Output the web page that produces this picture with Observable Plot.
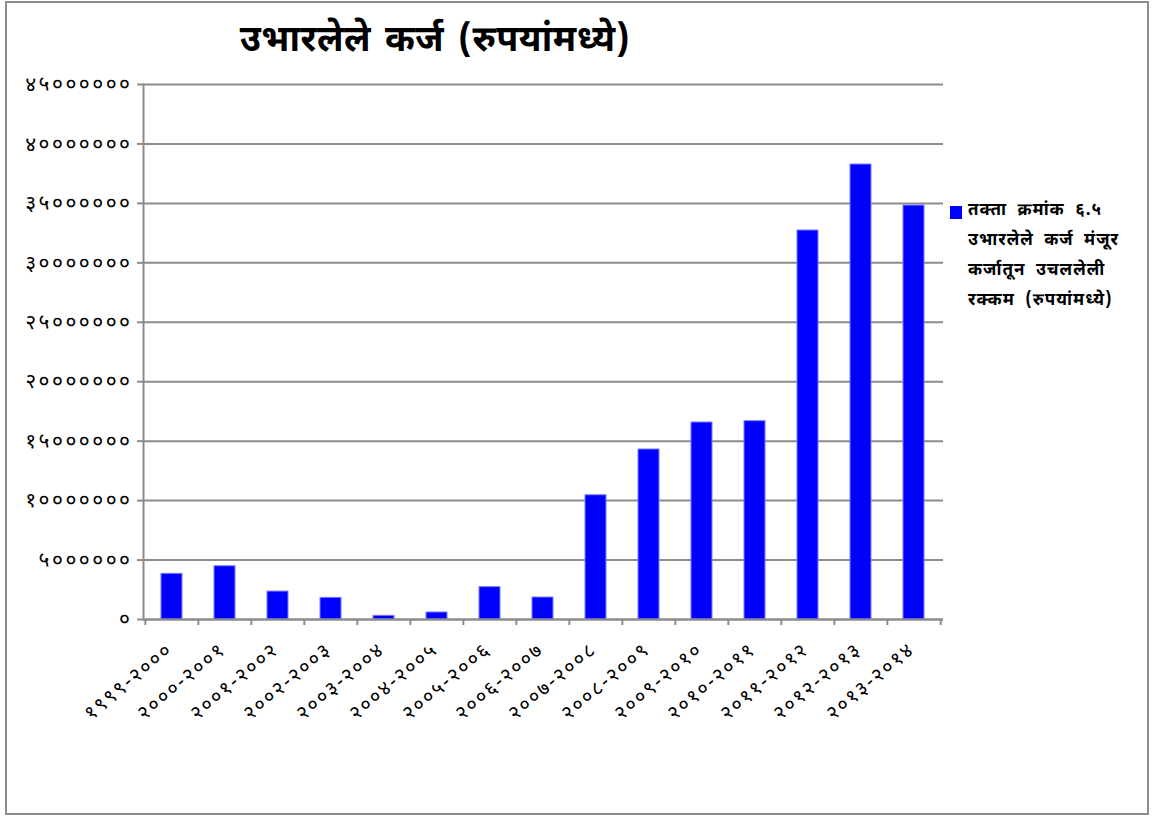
<!DOCTYPE html>
<html><head><meta charset="utf-8">
<script src="https://cdn.jsdelivr.net/npm/d3@7"></script>
<script src="https://cdn.jsdelivr.net/npm/@observablehq/plot@0.6"></script>
<style>
body{margin:0;background:#fff}
#wrap{position:relative;width:1157px;height:816px;font-family:"Noto Sans Devanagari","Lohit Devanagari","Noto Sans",sans-serif;overflow:hidden}
#border{position:absolute;left:5px;top:1px;width:1144px;height:814px;border:2px solid #8c8c8c;box-sizing:border-box;pointer-events:none}
#chart{position:absolute;left:0;top:0}
#title{position:absolute;left:0;width:870px;top:19px;text-align:center;font-size:36px;font-weight:bold;color:#000;word-spacing:4px;letter-spacing:0.5px}
#legend{position:absolute;left:950px;top:196px;font-size:17px;font-weight:bold;line-height:30px;color:#000;word-spacing:5px;letter-spacing:1px}
#legend .sw{position:absolute;left:0;top:10px;width:12px;height:13px;background:#0000ff}
#legend .txt{margin-left:18px;white-space:nowrap}
svg g.ylbl text{letter-spacing:2.5px}
svg g.xlbl text{letter-spacing:2px}
</style></head>
<body>
<div id="wrap">
  <div id="chart"></div>
  <div id="title"></div>
  <div id="legend"><div class="sw"></div><div class="txt"></div></div>
  <div id="border"></div>
</div>
<script>
const titleText = "उभारलेले कर्ज (रुपयांमध्ये)";
const legendLines = ["तक्ता क्रमांक ६.५", "उभारलेले कर्ज मंजूर", "कर्जातून उचललेली", "रक्कम (रुपयांमध्ये)"];
const categories = ["१९९९-२०००","२०००-२००१","२००१-२००२","२००२-२००३","२००३-२००४","२००४-२००५","२००५-२००६","२००६-२००७","२००७-२००८","२००८-२००९","२००९-२०१०","२०१०-२०११","२०११-२०१२","२०१२-२०१३","२०१३-२०१४"];
const values = [3840000, 4480000, 2350000, 1820000, 310000, 590000, 2720000, 1850000, 10450000, 14300000, 16570000, 16680000, 32720000, 38270000, 34820000];
const yTicks = [0, 5000000, 10000000, 15000000, 20000000, 25000000, 30000000, 35000000, 40000000, 45000000];

const devDigits = "०१२३४५६७८९";
const toDev = v => String(v).replace(/\d/g, d => devDigits[d]);

document.getElementById("title").textContent = titleText;
document.querySelector("#legend .txt").innerHTML = legendLines.map(l => `<div>${l}</div>`).join("");

const data = categories.map((c, i) => ({cat: c, value: values[i]}));
const W = 1157, H = 816, mL = 143, mR = 214, mT = 84, mB = 197;
const bw = (W - mL - mR) / categories.length;
const font = '"Noto Sans Devanagari","Lohit Devanagari","Noto Sans",sans-serif';

const plot = Plot.plot({
  width: W, height: H,
  marginLeft: mL, marginRight: mR, marginTop: mT, marginBottom: mB,
  style: {fontFamily: font, background: "transparent", color: "#000"},
  x: {domain: categories, paddingInner: 0.6, paddingOuter: 0.3, axis: null},
  y: {domain: [0, 45000000], axis: null},
  marks: [
    Plot.gridY(yTicks, {stroke: "#8c8c8c", strokeOpacity: 1, strokeWidth: 2}),
    Plot.axisY(yTicks, {label: null, tickSize: 6, tickPadding: 5, tickFormat: toDev, fontSize: 21, stroke: "#8c8c8c", strokeWidth: 2, fill: "#000", className: "ylbl"}),
    Plot.barY(data, {x: "cat", y: "value", fill: "#0000ff", stroke: "#7a7aff", strokeWidth: 1}),
    Plot.ruleY([0], {stroke: "#8c8c8c", strokeWidth: 2}),
    Plot.frame({anchor: "left", stroke: "#8c8c8c", strokeWidth: 2}),
    Plot.ruleX(categories, {x: d => d, y1: 0, y2: 0, dx: -bw / 2, insetBottom: -6, stroke: "#8c8c8c", strokeWidth: 2}),
    Plot.ruleX(categories.slice(-1), {x: d => d, y1: 0, y2: 0, dx: bw / 2, insetBottom: -6, stroke: "#8c8c8c", strokeWidth: 2}),
    Plot.text(categories, {x: d => d, text: d => d, frameAnchor: "bottom", dy: 32, dx: 2, rotate: -40, textAnchor: "end", fontSize: 20, fill: "#000", className: "xlbl"})
  ]
});
document.getElementById("chart").appendChild(plot);
</script>
</body></html>
